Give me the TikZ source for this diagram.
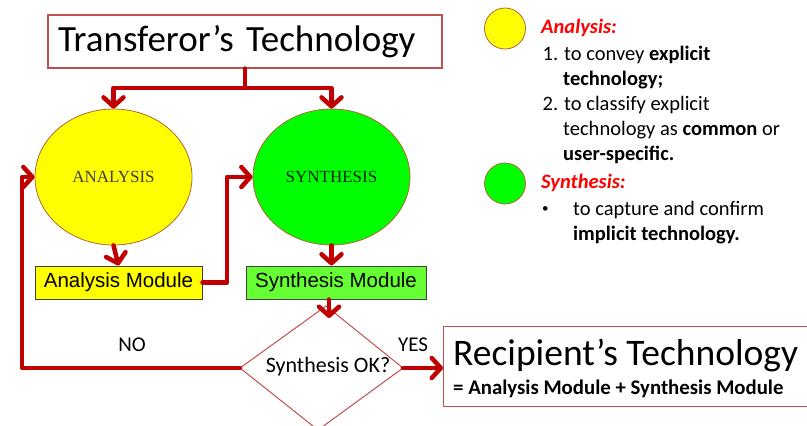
\documentclass[tikz,border=0pt]{standalone}
\usepackage{fontspec}
\usetikzlibrary{arrows.meta,shapes.geometric}
\newfontfamily\calib{Carlito}
\newfontfamily\arialf{Liberation Sans}
\newfontfamily\timesf{Liberation Serif}
\definecolor{darkred}{HTML}{C00000}
\definecolor{boxred}{HTML}{C0504D}
\definecolor{ylw}{HTML}{FFFF00}
\definecolor{grn}{HTML}{00FF00}
\definecolor{lgrn}{HTML}{66FF33}
\definecolor{ellb}{HTML}{B0653A}
\definecolor{modb}{HTML}{404040}
\definecolor{redtxt}{HTML}{FF0000}
\tikzset{
  conn/.style={draw=darkred, line width=4.5pt, line cap=round, line join=round},
  arr/.style={conn, -{Straight Barb[length=9pt,width=20pt,round]}},
  ell/.style={ellipse, draw=ellb, line width=0.8pt, minimum width=157pt, minimum height=136pt, inner sep=0pt, font=\timesf\fontsize{17}{17}\selectfont},
  modbox/.style={rectangle, draw=modb, line width=1pt, minimum height=33pt, inner sep=0pt, font=\arialf\fontsize{20.5}{22}\selectfont},
  lg/.style={anchor=base west, inner sep=0pt, font=\calib\fontsize{20.5}{24}\selectfont},
  cal/.style={inner sep=0pt, font=\calib\fontsize{21}{24}\selectfont},
  legcirc/.style={circle, draw=ellb, line width=0.8pt, minimum size=41pt, inner sep=0pt}
}
\begin{document}
\begin{tikzpicture}[x=1pt,y=-1pt]
\useasboundingbox (0,0) rectangle (807,426);
% title box
\node[draw=boxred, line width=1.2pt, minimum width=394pt, minimum height=53pt, inner xsep=10pt, inner ysep=0pt, text width=374pt, align=left, font=\calib\fontsize{37}{40}\selectfont] (tt) at (245,41.5) {Transferor’s Technology};
% ellipses
\node[ell, fill=ylw, text=black!85!yellow] (ea) at (113.5,177) {ANALYSIS};
\node[ell, fill=grn, text=black!85!green] (es) at (331.5,177) {SYNTHESIS};
% modules
\node[modbox, fill=ylw, minimum width=167pt] (am) at (118.5,282.5) {Analysis Module};
\node[modbox, fill=lgrn, minimum width=180pt] (sm) at (336,282.5) {Synthesis Module};
% diamond
\coordinate (dt) at (326,306);
\coordinate (dr) at (403,368);
\coordinate (db) at (318,430);
\coordinate (dl) at (240,368);
\draw[boxred, line width=1pt] (dt) -- (dr) -- (db) -- (dl) -- cycle;
\node[cal, anchor=base, font=\calib\fontsize{22}{24}\selectfont] (dq) at (328,372) {Synthesis OK?};
% recipient box
\node[draw=boxred, line width=1.2pt, minimum width=369pt, minimum height=80pt, inner sep=0pt, anchor=north west] (rt) at (443,326) {};
\node[anchor=base west, inner sep=0pt, font=\calib\fontsize{37.5}{40}\selectfont] (rt1) at (453,365) {Recipient’s Technology};
\node[anchor=base west, inner sep=0pt, font=\calib\bfseries\fontsize{20.8}{24}\selectfont] (rt2) at (453,394) {= Analysis Module + Synthesis Module};
% labels
\node[cal, anchor=base] (no) at (132,351) {NO};
\node[cal, anchor=base] (yes) at (413,351) {YES};
% connectors
\coordinate (j) at (245,88);
\draw[conn] (tt.south) -- (j);
\draw[arr] (j) -| (ea.north);
\draw[arr] (j) -| (es.north);
\draw[arr] (ea.south) -- (am.north);
\draw[arr] (es.south) -- (es.south |- sm.north);
\coordinate (k) at (227,177);
\draw[arr] (am.east) -| (k) -- (es.west);
\coordinate (dtin) at (329,318);
\draw[arr] (sm.south -| dtin) -- (dtin);
\coordinate (lp) at (22,368);
\draw[arr] (dl) -- (lp) |- (ea.west);
\draw[arr] (dr) -- (dr -| rt.west);
% legend
\node[legcirc, fill=ylw] (ly) at (505,28.5) {};
\node[legcirc, fill=grn] (lgc) at (505,183.5) {};
\node[lg, text=redtxt, font=\calib\bfseries\itshape\fontsize{20.5}{24}\selectfont] (la) at (541,33) {Analysis:};
\node[lg] (l1) at (542.5,60) {1.\hspace{6pt}to convey \textbf{explicit}};
\node[lg] (l2) at (563,85) {\textbf{technology;}};
\node[lg] (l3) at (542.5,110) {2.\hspace{6pt}to classify explicit};
\node[lg] (l4) at (563,135) {technology as \textbf{common} or};
\node[lg] (l5) at (563,160) {\textbf{user-specific.}};
\node[lg, text=redtxt, font=\calib\bfseries\itshape\fontsize{20.5}{24}\selectfont] (ls) at (541,188) {Synthesis:};
\node[lg, font=\calib\fontsize{13}{14}\selectfont] (lb) at (542,212) {•};
\node[lg] (l6) at (573,215) {to capture and confirm};
\node[lg] (l7) at (573,240) {\textbf{implicit technology.}};
\end{tikzpicture}
\end{document}
